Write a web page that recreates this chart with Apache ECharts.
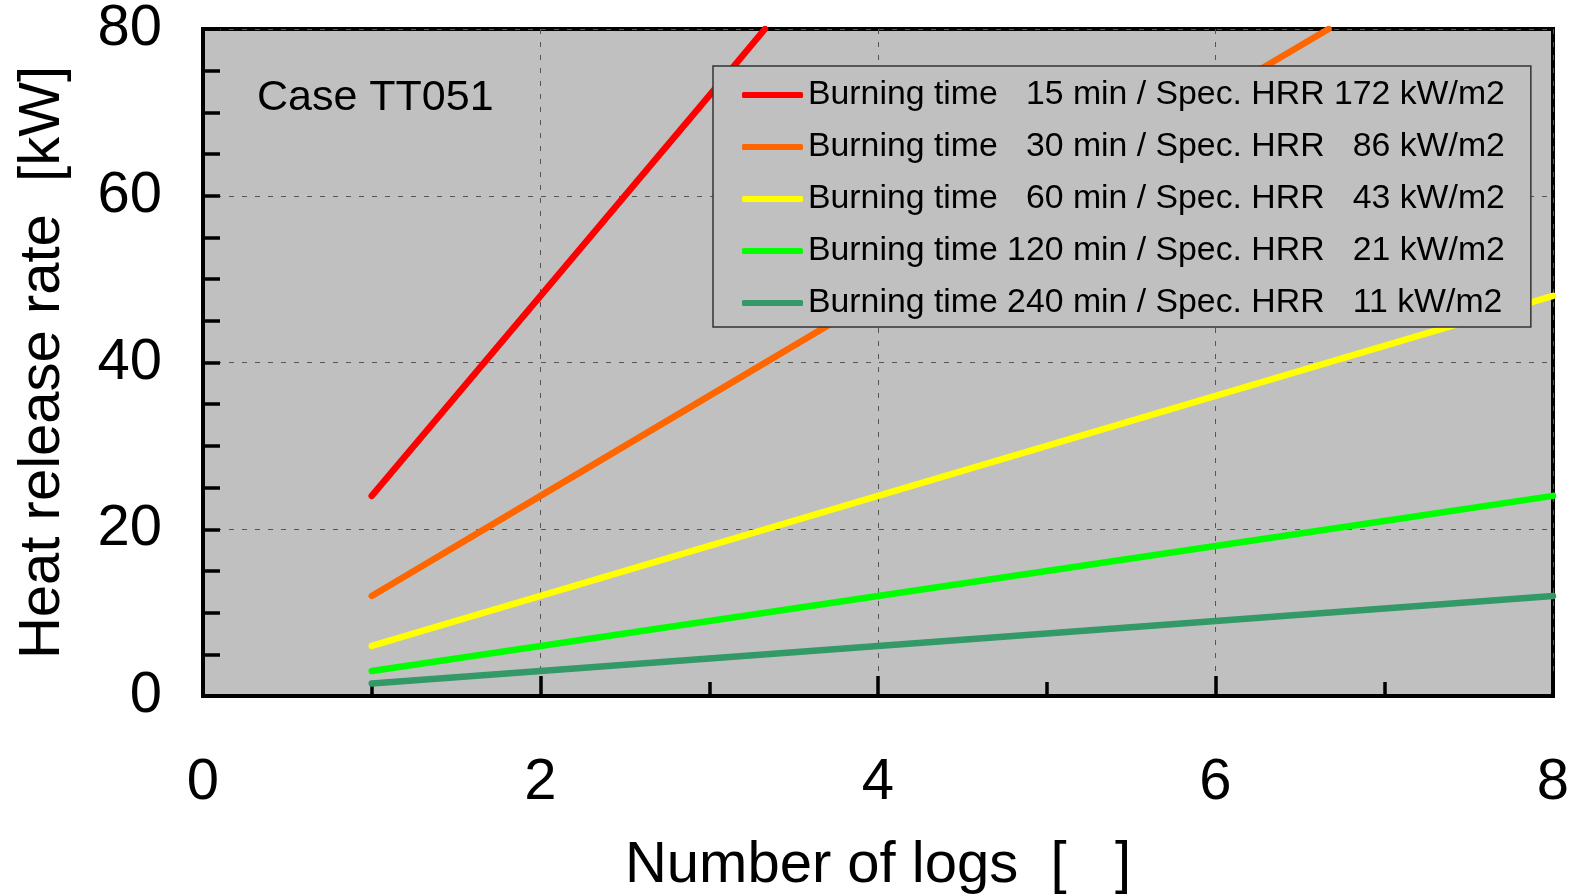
<!DOCTYPE html>
<html><head><meta charset="utf-8">
<script src="https://cdn.jsdelivr.net/npm/echarts@6/dist/echarts.min.js"></script>
<style>html,body{margin:0;padding:0;background:#fff}#c{width:1583px;height:895px}</style>
</head><body><div id="c"></div>
<script>
const FONT = 'Liberation Sans, Arial, sans-serif';
const xAxisName = 'Number of logs  [   ]';
const yAxisName = 'Heat release rate  [kW]';
const caseLabel = 'Case TT051';
const seriesNames = [
  'Burning time   15 min / Spec. HRR 172 kW/m2',
  'Burning time   30 min / Spec. HRR   86 kW/m2',
  'Burning time   60 min / Spec. HRR   43 kW/m2',
  'Burning time 120 min / Spec. HRR   21 kW/m2',
  'Burning time 240 min / Spec. HRR   11 kW/m2'
];
const hrr15  = [[1, 24], [2, 48], [3, 72], [3.33, 80]];
const hrr30  = [[1, 12], [2, 24], [3, 36], [4, 48], [5, 60], [6, 72], [6.67, 80]];
const hrr60  = [[1, 6], [2, 12], [3, 18], [4, 24], [5, 30], [6, 36], [7, 42], [8, 48]];
const hrr120 = [[1, 3], [2, 6], [3, 9], [4, 12], [5, 15], [6, 18], [7, 21], [8, 24]];
const hrr240 = [[1, 1.5], [2, 3], [3, 4.5], [4, 6], [5, 7.5], [6, 9], [7, 10.5], [8, 12]];
const seriesData = [hrr15, hrr30, hrr60, hrr120, hrr240];
const colors = ['#ff0000', '#ff6600', '#ffff00', '#00ff00', '#339966'];

const chart = echarts.init(document.getElementById('c'), null, {renderer: 'canvas'});
const gridLine = {show: true, lineStyle: {color: '#555', width: 1, type: [5, 8]}};
chart.setOption({
  animation: false,
  backgroundColor: '#ffffff',
  textStyle: {fontFamily: FONT},
  grid: {left: 203, top: 29, right: 30, bottom: 199, show: true, containLabel: false,
         outerBoundsMode: 'none',
         backgroundColor: '#c0c0c0', borderColor: '#000', borderWidth: 4},
  xAxis: {
    type: 'value', min: 0, max: 8, interval: 2,
    name: xAxisName, nameLocation: 'middle', nameGap: 141,
    nameTextStyle: {fontSize: 58, color: '#000', fontFamily: FONT},
    axisLine: {show: true, lineStyle: {color: '#000', width: 4}},
    axisTick: {show: true, inside: true, length: 20, lineStyle: {color: '#000', width: 3.5}},
    minorTick: {show: true, splitNumber: 2, length: 14, lineStyle: {color: '#000', width: 3.5}},
    axisLabel: {fontSize: 58, color: '#000', margin: 58, fontFamily: FONT},
    splitLine: gridLine
  },
  yAxis: {
    type: 'value', min: 0, max: 80, interval: 20,
    name: yAxisName, nameLocation: 'middle', nameGap: 131,
    nameTextStyle: {fontSize: 58, color: '#000', fontFamily: FONT},
    axisLine: {show: true, lineStyle: {color: '#000', width: 4}},
    axisTick: {show: true, inside: true, length: 17, lineStyle: {color: '#000', width: 3.5}},
    minorTick: {show: true, splitNumber: 4, length: 17, lineStyle: {color: '#000', width: 3.5}},
    axisLabel: {fontSize: 58, color: '#000', margin: 41, fontFamily: FONT},
    splitLine: gridLine
  },
  legend: {
    left: 713, top: 66, orient: 'vertical',
    data: seriesNames,
    icon: 'roundRect', itemWidth: 61, itemHeight: 6, itemGap: 18, itemTextGap: 5,
    padding: [12, 26, 7, 29],
    backgroundColor: '#c0c0c0', borderColor: '#333', borderWidth: 1.5,
    textStyle: {fontSize: 33.8, lineHeight: 34, color: '#000', fontFamily: FONT}
  },
  graphic: [{
    type: 'text', left: 257, top: 77,
    style: {text: caseLabel, font: '43px ' + FONT, fill: '#000'}
  }],
  series: seriesData.map((d, i) => ({
    name: seriesNames[i], type: 'line', data: d,
    color: colors[i], showSymbol: false, symbol: 'none', clip: true,
    lineStyle: {color: colors[i], width: 6.5, cap: 'round'}
  }))
});
</script></body></html>
